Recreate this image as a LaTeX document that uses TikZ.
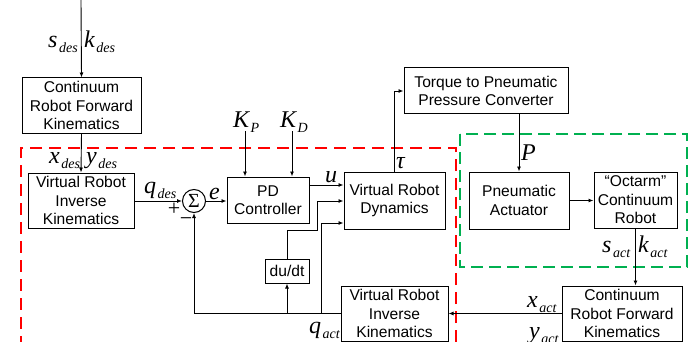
\documentclass[tikz,border=0pt]{standalone}
\usepackage{fontspec}
\setmainfont{Liberation Sans}
\newfontfamily\tms{Liberation Serif}
\usetikzlibrary{arrows.meta}
\newcommand\vlab[2]{{\tms\itshape\fontsize{24}{24}\selectfont #1\kern1.5pt\raisebox{-5pt}{\fontsize{14}{14}\selectfont #2}}}
\newcommand\vsym[1]{{\tms\itshape\fontsize{24}{24}\selectfont #1}}
\definecolor{dgreen}{RGB}{0,176,80}
\definecolor{dred}{RGB}{255,0,0}
\begin{document}
\begin{tikzpicture}[x=1pt,y=-1pt,
  blk/.style={draw, line width=1pt, inner sep=0pt, align=center,
    font=\fontsize{15.6}{18.5}\selectfont},
  arr/.style={line width=0.9pt, -{Latex[length=5pt,width=4pt]}},
  ln/.style={line width=0.9pt},
  lab/.style={anchor=base west, inner sep=0pt},
  regionred/.style={draw=dred, line width=1.8pt, dash pattern=on 12pt off 7pt},
  regiongreen/.style={draw=dgreen, line width=1.8pt, dash pattern=on 12pt off 6pt}]
\useasboundingbox (0,0) rectangle (698,342);

% regions
\draw[regionred] (456,342) -- (456,148) -- (21,148) -- (21,342);
\draw[regiongreen] (460,134) rectangle (687,267);

% blocks
\node[blk, minimum width=119pt, minimum height=55pt] (crfk1) at (81.5,105.5) {Continuum\\Robot Forward\\Kinematics};
\node[blk, minimum width=106pt, minimum height=55pt] (vrik1) at (81,200.5) {Virtual Robot\\Inverse\\Kinematics};
\node[draw, circle, line width=1pt, minimum size=23pt, inner sep=0pt, font=\tms\fontsize{20}{20}\selectfont] (sum) at (194,201) {Σ};
\node[blk, minimum width=82pt, minimum height=46pt] (pd) at (268,200) {PD\\Controller};
\node[blk, minimum width=101pt, minimum height=57pt] (vrd) at (394.5,200.5) {Virtual Robot\\Dynamics};
\node[blk, minimum width=44pt, minimum height=24pt] (ddt) at (287,271) {du/dt};
\node[blk, minimum width=107pt, minimum height=55pt] (vrik2) at (394.5,313.5) {Virtual Robot\\Inverse\\Kinematics};
\node[blk, minimum width=120pt, minimum height=55pt] (crfk2) at (622,313.5) {Continuum\\Robot Forward\\Kinematics};
\node[blk, minimum width=164pt, minimum height=46pt] (torque) at (486,91) {Torque to Pneumatic\\Pressure Converter};
\node[blk, minimum width=100pt, minimum height=57pt] (pa) at (519,200.5) {Pneumatic\\Actuator};
\node[blk, minimum width=83pt, minimum height=56pt] (oct) at (635.5,200) {“Octarm”\\Continuum\\Robot};

% labels
\node[lab] (sdes) at (48,47.5) {\vlab{s}{des}};
\node[lab] (kdes) at (84,47.5) {\vlab{k}{des}};
\node[lab] (xdes) at (49,163) {\vlab{x}{des}};
\node[lab] (ydes) at (86,163) {\vlab{y}{des}};
\node[lab] (kp) at (233,127.7) {\vlab{K}{P}};
\node[lab] (kd) at (280,127.7) {\vlab{K}{D}};
\node[lab] (qdes) at (144,193) {\vlab{q}{des}};
\node[lab] (elab) at (209,199) {\vsym{e}};
\node[lab] (ulab) at (325,182) {\vsym{u}};
\node[lab] (taulab) at (396,168) {\vsym{τ}};
\node[lab] (plab) at (521,160) {\vsym{P}};
\node[lab] (qact) at (309,333) {\vlab{q}{act}};
\node[lab] (sact) at (602,252) {\vlab{s}{act}};
\node[lab] (kact) at (638,252) {\vlab{k}{act}};
\node[lab] (xact) at (527,307) {\vlab{x}{act}};
\node[lab] (yact) at (529,338) {\vlab{y}{act}};
\node[inner sep=0pt, font=\tms\fontsize{22}{22}\selectfont] (plus) at (174,209) {+};
\node[inner sep=0pt, font=\tms\fontsize{22}{22}\selectfont] (minus) at (186,222) {−};

% coordinates
\coordinate (top) at (81,0);
\coordinate (kpin) at (245,131);
\coordinate (kdin) at (292,131);

% connectors
\draw[arr] (top) -- (crfk1.north);
\draw[arr] (crfk1.south) -- (vrik1.north);
\draw[arr] (vrik1.east |- sum.west) -- (sum.west);
\draw[arr] (sum.east) -- (pd.west |- sum.east);
\draw[arr] (kpin) -- (kpin |- pd.north);
\draw[arr] (kdin) -- (kdin |- pd.north);
\draw[arr] (pd.east |- 0,185) -- (vrd.west |- 0,185);
\draw[arr] (ddt.north) -- (287,230) -- (317,230) -- (317,201) -- (vrd.west |- 0,201);
\draw[arr] (vrik2.west) -- (sum.south |- vrik2.west) -- (sum.south);
\draw[arr] (287,313.5) -- (ddt.south);
\draw[arr] (321,313.5) -- (321,223) -- (vrd.west |- 0,223);
\draw[arr] (vrd.north) |- (torque.west);
\draw[arr] (pa.north |- torque.south) -- (pa.north);
\draw[arr] (pa.east) -- (oct.west |- pa.east);
\draw[arr] (oct.south) -- (oct.south |- crfk2.north);
\draw[arr] (crfk2.west) -- (vrik2.east);
\end{tikzpicture}
\end{document}
